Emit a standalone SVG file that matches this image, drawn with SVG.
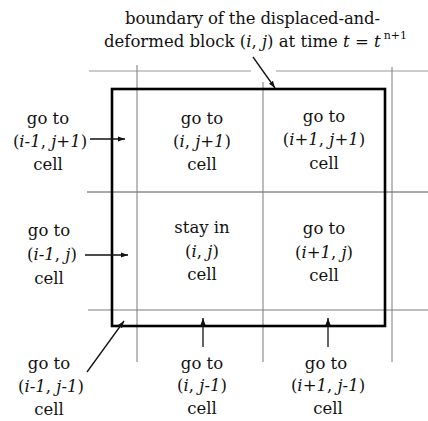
<svg xmlns="http://www.w3.org/2000/svg" width="428" height="421" viewBox="0 0 428 421" font-family="DejaVu Serif, serif">
<style>
text{font-size:16.5px;fill:#111;}
.c{text-anchor:middle;}
.i{font-style:italic;}
.grid{stroke:#7a7a7a;stroke-width:1;fill:none;}
.conn{stroke:#111;stroke-width:1.3;fill:none;marker-end:url(#ah);}
</style>
<defs>
<marker id="ah" markerUnits="userSpaceOnUse" markerWidth="8" markerHeight="6" refX="7" refY="3" orient="auto">
<path d="M0,0.5 L7,3 L0,5.5 Z" fill="#111"/>
</marker>
</defs>
<rect width="428" height="421" fill="#fff"/>
<g id="grid">
<line class="grid" x1="89" y1="71" x2="251" y2="71" style="stroke:#999"/>
<line class="grid" x1="276" y1="71" x2="428" y2="71" style="stroke:#999"/>
<line class="grid" x1="87" y1="192" x2="428" y2="192" style="stroke:#555"/>
<line class="grid" x1="88" y1="310" x2="428" y2="310"/>
<line class="grid" x1="137" y1="65" x2="137" y2="362"/>
<line class="grid" x1="263" y1="82" x2="263" y2="362"/>
<line class="grid" x1="392" y1="67" x2="392" y2="362"/>
</g>
<g id="block">
<rect x="112" y="89" width="273" height="237" fill="none" stroke="#000" stroke-width="2.6"/>
</g>
<g id="title">
<text x="125" y="24" textLength="255" lengthAdjust="spacing">boundary of the displaced-and-</text>
<text x="104" y="47" textLength="303" lengthAdjust="spacing">deformed block (<tspan class="i">i</tspan>, <tspan class="i">j</tspan>) at time <tspan class="i">t</tspan> = <tspan class="i">t</tspan><tspan dx="3" dy="-8" style="font-size:11px">n+1</tspan></text>
</g>
<g id="connectors">
<line class="conn" x1="253" y1="57" x2="275" y2="88"/>
<line class="conn" x1="90" y1="139" x2="125" y2="139"/>
<line class="conn" x1="85" y1="255" x2="128" y2="255"/>
<line class="conn" x1="203" y1="347" x2="203" y2="318"/>
<line class="conn" x1="328" y1="347" x2="328" y2="318"/>
<line class="conn" x1="87" y1="372" x2="124" y2="321"/>
</g>
<g id="n-im1-jp1">
<text class="c" x="48" y="124">go to</text>
<text class="c" x="50" y="147">(<tspan class="i">i-1</tspan>, <tspan class="i">j+1</tspan>)</text>
<text class="c" x="48" y="170">cell</text>
</g>
<g id="n-i-jp1">
<text class="c" x="202" y="124">go to</text>
<text class="c" x="202" y="147">(<tspan class="i">i</tspan>, <tspan class="i">j</tspan>+<tspan class="i">1</tspan>)</text>
<text class="c" x="202" y="170">cell</text>
</g>
<g id="n-ip1-jp1">
<text class="c" x="324" y="122">go to</text>
<text class="c" x="324" y="145">(<tspan class="i">i</tspan>+<tspan class="i">1</tspan>, <tspan class="i">j</tspan>+<tspan class="i">1</tspan>)</text>
<text class="c" x="324" y="169">cell</text>
</g>
<g id="n-im1-j">
<text class="c" x="49" y="236">go to</text>
<text class="c" x="52" y="260">(<tspan class="i">i-1</tspan>, <tspan class="i">j</tspan>)</text>
<text class="c" x="49" y="284">cell</text>
</g>
<g id="n-i-j">
<text class="c" x="202" y="233">stay in</text>
<text class="c" x="202" y="257">(<tspan class="i">i</tspan>, <tspan class="i">j</tspan>)</text>
<text class="c" x="202" y="280">cell</text>
</g>
<g id="n-ip1-j">
<text class="c" x="324" y="234">go to</text>
<text class="c" x="324" y="258">(<tspan class="i">i</tspan>+<tspan class="i">1</tspan>, <tspan class="i">j</tspan>)</text>
<text class="c" x="324" y="281">cell</text>
</g>
<g id="n-im1-jm1">
<text class="c" x="49" y="369">go to</text>
<text class="c" x="51" y="392">(<tspan class="i">i-1</tspan>, <tspan class="i">j-1</tspan>)</text>
<text class="c" x="49" y="415">cell</text>
</g>
<g id="n-i-jm1">
<text class="c" x="202" y="369">go to</text>
<text class="c" x="202" y="391">(<tspan class="i">i</tspan>, <tspan class="i">j-1</tspan>)</text>
<text class="c" x="202" y="414">cell</text>
</g>
<g id="n-ip1-jm1">
<text class="c" x="326" y="369">go to</text>
<text class="c" x="328" y="391">(<tspan class="i">i</tspan>+<tspan class="i">1</tspan>, <tspan class="i">j-1</tspan>)</text>
<text class="c" x="328" y="414">cell</text>
</g>
</svg>
